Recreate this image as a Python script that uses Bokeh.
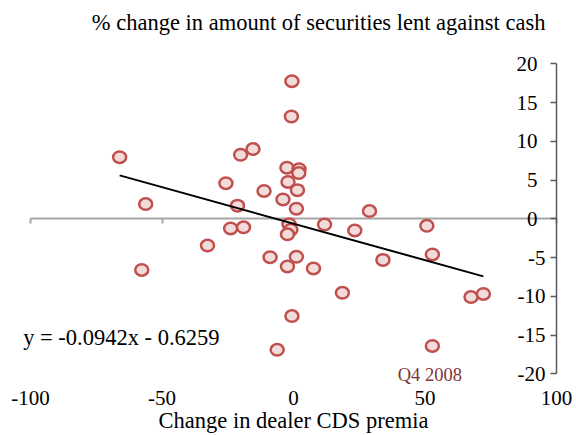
import numpy as np
from bokeh.plotting import figure
from bokeh.models import LinearAxis, FixedTicker, Range1d, Label
from bokeh.embed import file_html
from bokeh.resources import INLINE

# ---- data ----
cds_change = [-66.1, -56.2, -57.7, -32.7, -25.7, -21.3, -20.1, -15.4, -23.9, -19.0,
              -11.2, -8.9, -6.2, -4.0, -2.5, -2.1, -2.3, -0.6, -0.8, -0.6,
              -1.7, -1.0, -2.3, 1.1, 1.5, 2.1, 2.0, 1.1, 7.6, 11.8,
              18.6, 23.3, 28.9, 34.0, 50.7, 52.8, 52.8, 67.5, 72.2]
sec_lent_change = [7.95, 1.9, -6.6, -3.45, 4.6, 1.7, 8.25, 9.0, -1.25, -1.1,
                   3.6, -4.95, -16.9, 2.5, 6.6, 4.75, -6.15, 17.75, 13.2, -12.55,
                   -0.7, -1.4, -2.0, 1.3, 3.7, 6.4, 5.9, -4.9, -6.4, -0.75,
                   -9.55, -1.5, 1.0, -5.3, -0.9, -4.6, -16.4, -10.1, -9.7]
trend_slope = -0.0942
trend_intercept = -0.6259
x_bounds = (-100, 100)
y_bounds = (-20, 20)
x_ticks = [-100, -50, 0, 50, 100]
x_tick_labels = ["-100", "-50", "0", "50", "100"]
y_ticks_pos = [0, 5, 10, 15, 20]
y_tick_labels_pos = ["0", "5", "10", "15", "20"]
y_ticks_neg = [-20, -15, -10, -5]
y_tick_labels_neg = ["-20", "-15", "-10", "-5"]
y_title = "% change in amount of securities lent against cash"
x_title = "Change in dealer CDS premia"
period_note = "Q4 2008"

FONT = "Liberation Serif"
FS_TICK = "21px"
FS_TEXT = "22.5px"

W, H = 576, 435
# pixel box of the plotting area inside the canvas
PX_L, PX_R, PX_T, PX_B = 30.0, 556.0, 63.3, 373.3
kx = (PX_R - PX_L) / (x_bounds[1] - x_bounds[0])
ky = (PX_B - PX_T) / (y_bounds[1] - y_bounds[0])
x_range = Range1d(x_bounds[0] - PX_L / kx, x_bounds[1] + (W - PX_R) / kx)
y_range = Range1d(y_bounds[0] - (H - PX_B) / ky, y_bounds[1] + PX_T / ky)

p = figure(width=W, height=H, x_range=x_range, y_range=y_range,
           x_axis_type=None, y_axis_type=None, output_backend="svg", toolbar_location=None,
           min_border=0)
p.outline_line_color = None
p.background_fill_color = "white"
p.border_fill_color = "white"

# x axis crossing at y = 0, labels at the bottom of the plotting area
xaxis = LinearAxis(fixed_location=0, bounds=x_bounds,
                   ticker=FixedTicker(ticks=x_ticks, minor_ticks=[]))
xaxis.level = "underlay"
xaxis.major_label_overrides = dict(zip(x_ticks, x_tick_labels))
xaxis.axis_line_color = "#a6a6a6"
xaxis.axis_line_width = 2
xaxis.major_tick_line_color = "#a6a6a6"
xaxis.major_tick_line_width = 2
xaxis.major_tick_out = 5
xaxis.major_tick_in = 0
xaxis.minor_tick_line_color = None
xaxis.major_label_standoff = 167
xaxis.major_label_text_font = FONT
xaxis.major_label_text_font_size = FS_TICK
xaxis.major_label_text_color = "black"
xaxis.axis_label = x_title
xaxis.axis_label_standoff = 0
xaxis.axis_label_text_font = FONT
xaxis.axis_label_text_font_size = FS_TEXT
xaxis.axis_label_text_font_style = "normal"
xaxis.axis_label_text_color = "black"
p.add_layout(xaxis, "below")

# y axis at x = 100, labels on its left
def y_axis(ticks, labels, standoff, line_color):
    ax = LinearAxis(fixed_location=x_bounds[1], bounds=y_bounds,
                    ticker=FixedTicker(ticks=ticks, minor_ticks=[]))
    ax.major_label_overrides = dict(zip(ticks, labels))
    ax.axis_line_color = line_color
    ax.axis_line_width = 1.5
    ax.major_tick_line_color = "#595959"
    ax.major_tick_line_width = 1.5
    ax.major_tick_out = 6
    ax.major_tick_in = 0
    ax.minor_tick_line_color = None
    ax.major_label_standoff = standoff
    ax.major_label_text_font = FONT
    ax.major_label_text_font_size = FS_TICK
    ax.major_label_text_color = "black"
    return ax

p.add_layout(y_axis(y_ticks_pos, y_tick_labels_pos, 13, "#595959"), "left")
p.add_layout(y_axis(y_ticks_neg, y_tick_labels_neg, 5, None), "left")

# points
p.ellipse(x=cds_change, y=sec_lent_change, width=13, height=11.5,
          width_units="screen", height_units="screen",
          fill_color="#f2dcdb", line_color="#c0504d", line_width=2.5)

# linear trend line
x_fit = np.array([min(cds_change), max(cds_change)])
y_fit = trend_slope * x_fit + trend_intercept
p.line(x_fit, y_fit, line_color="black", line_width=2)

# texts
p.add_layout(Label(x=95.8, y=25.35, text=y_title, text_align="right",
                   text_baseline="alphabetic", text_font=FONT,
                   text_font_size=FS_TEXT, text_color="black"))
eq_text = f"y = {trend_slope}x - {abs(trend_intercept)}"
p.add_layout(Label(x=-102.8, y=-15.3, text=eq_text, text_baseline="alphabetic",
                   text_font=FONT, text_font_size=FS_TEXT, text_color="black"))
p.add_layout(Label(x=39.6, y=-20.15, text=period_note, text_baseline="alphabetic",
                   text_font=FONT, text_font_size="18.5px", text_color="#7f3535"))

open("out.html", "w").write(file_html(p, INLINE))
